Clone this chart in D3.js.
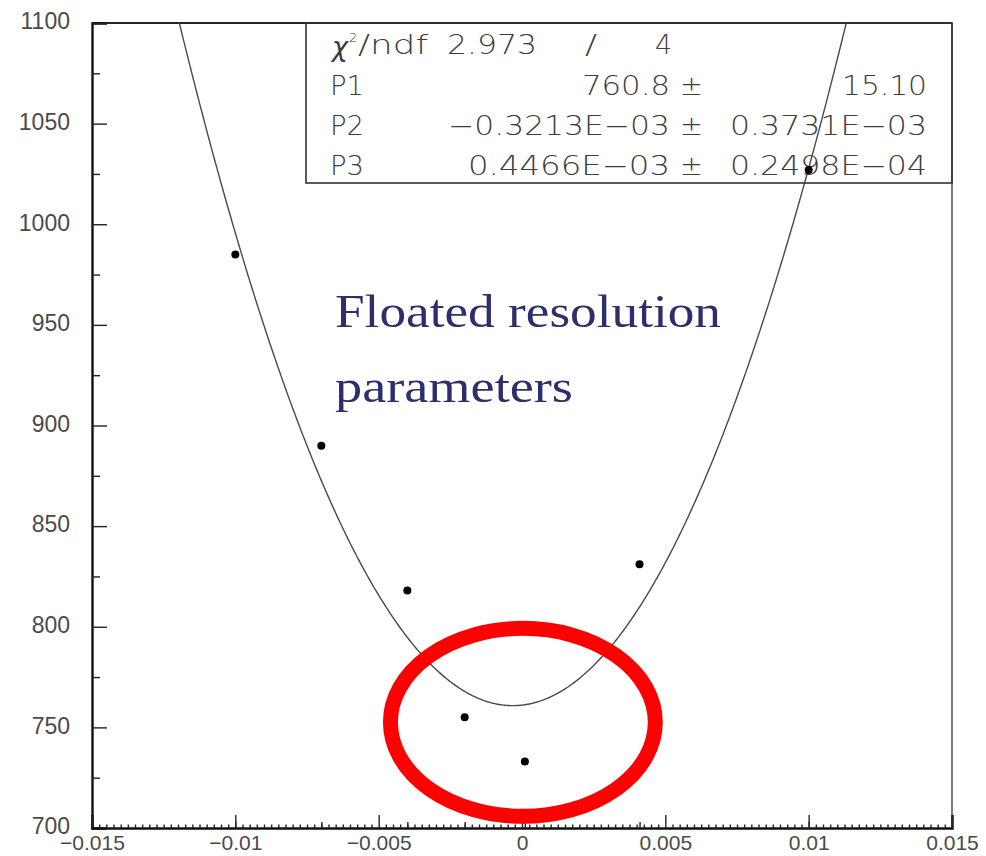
<!DOCTYPE html>
<html>
<head>
<meta charset="utf-8">
<script src="https://cdn.jsdelivr.net/npm/d3@7"></script>
<style>
  html, body { margin: 0; padding: 0; background: #fff; }
  svg { display: block; }
</style>
</head>
<body>
<svg id="chart" width="986" height="856"></svg>
<script>
// Measured points (x offset vs. fitted width)
const pointX = [-0.01, -0.007, -0.004, -0.002, 0.0001, 0.0041, 0.01];
const pointY = [985, 890, 818, 755, 733, 831, 1027];

// Axis ticks
const xMajor = [-0.015, -0.01, -0.005, 0, 0.005, 0.01, 0.015];
const xLabels = ["\u22120.015", "\u22120.01", "\u22120.005", "0", "0.005", "0.01", "0.015"];
const yMajor = [700, 750, 800, 850, 900, 950, 1000, 1050, 1100];
const yLabels = ["700", "750", "800", "850", "900", "950", "1000", "1050", "1100"];

// Fit result: y = P1 + (x - P2)^2 / (2 P3^2)
const fitNames = ["P1", "P2", "P3"];
const fitValues = [760.8, -0.3213e-3, 0.4466e-3];
const fitValueText = ["760.8", "\u22120.3213E\u221203", "0.4466E\u221203"];
const fitErrorText = ["15.10", "0.3731E\u221203", "0.2498E\u221204"];
const chi2Text = ["\u03c7\u00b2/ndf", "2.973", "/", "4"];

// Highlight ellipse (centre and half-axes in data units)
const ringCentre = [0.00003, 752.5];
const ringHalf = [0.00462, 46.7];

const noteLines = ["Floated resolution", "parameters"];

const svg = d3.select("#chart");
const L = 92, R = 952, T = 23, B = 828;

const x = d3.scaleLinear().domain([-0.015, 0.015]).range([L, R]);
const y = d3.scaleLinear().domain([700, 1100]).range([B, T]);

const tickFont = "'Liberation Sans', Arial, sans-serif";

// frame: top and right borders
svg.append("line").attr("x1", L).attr("x2", R).attr("y1", T).attr("y2", T)
  .attr("stroke", "#222").attr("stroke-width", 2);
svg.append("line").attr("x1", R).attr("x2", R).attr("y1", T).attr("y2", B)
  .attr("stroke", "#444").attr("stroke-width", 1.4);

// y axis: majors with labels, minors at 25
const yAxis = d3.axisLeft(y).tickValues(yMajor)
  .tickFormat((d, i) => yLabels[i]).tickSize(-15).tickPadding(22);
svg.append("g").attr("class", "yaxis").attr("transform", `translate(${L},0)`).call(yAxis);
const yMinor = d3.range(725, 1100, 50);
svg.append("g").attr("transform", `translate(${L},0)`)
  .call(d3.axisLeft(y).tickValues(yMinor).tickFormat("").tickSize(-8))
  .call(g => g.select(".domain").remove());

// x axis: majors with labels, dense minors, marks at the measured offsets
const xAxis = d3.axisBottom(x).tickValues(xMajor)
  .tickFormat((d, i) => xLabels[i]).tickSize(-13).tickPadding(7);
svg.append("g").attr("class", "xaxis").attr("transform", `translate(0,${B})`).call(xAxis);
const xMinor = d3.range(-60, 61).map(k => k * 0.00025)
  .filter(v => !xMajor.some(m => Math.abs(m - v) < 1e-9));
svg.append("g").attr("transform", `translate(0,${B})`)
  .call(d3.axisBottom(x).tickValues(xMinor).tickFormat("").tickSize(-3.5))
  .call(g => g.select(".domain").remove());
svg.append("g").attr("transform", `translate(0,${B})`)
  .call(d3.axisBottom(x).tickValues(pointX).tickFormat("").tickSize(-6))
  .call(g => g.select(".domain").remove());

svg.selectAll(".domain").attr("stroke", "#111").attr("stroke-width", 2.4);
svg.selectAll(".tick line").attr("stroke", "#222").attr("stroke-width", 1.4);
svg.selectAll(".tick text").attr("fill", "#4a4a4a").style("font-family", tickFont);
svg.selectAll(".yaxis .tick text").style("font-size", "23px").attr("dy", "0.25em");
svg.selectAll(".xaxis .tick text").style("font-size", "21px");

// fitted curve
svg.append("clipPath").attr("id", "plotclip")
  .append("rect").attr("x", L).attr("y", T).attr("width", R - L).attr("height", B - T);
const [P1, P2, P3] = fitValues;
const curveX = d3.range(-0.015, 0.01500001, 0.00005);
const curve = curveX.map(v => [v, P1 + (v - P2) * (v - P2) / (2 * P3 * P3)]);
svg.append("path").datum(curve)
  .attr("clip-path", "url(#plotclip)")
  .attr("fill", "none").attr("stroke", "#4a4a4a").attr("stroke-width", 1.4)
  .attr("d", d3.line().x(d => x(d[0])).y(d => y(d[1])));

// statistics box
const box = svg.append("g");
box.append("rect").attr("x", 306).attr("y", T).attr("width", R - 306).attr("height", 183 - T)
  .attr("fill", "none").attr("stroke", "#333").attr("stroke-width", 1.6);
const statFont = "'DejaVu Sans', 'Liberation Sans', sans-serif";
function stat(txt, xs, base, width, anchor) {
  const t = box.append("text").attr("x", xs).attr("y", base)
    .attr("fill", "#3c3c3c").style("font-family", statFont).style("font-size", "26px")
    .style("font-weight", "200")
    .attr("text-anchor", anchor || "start").text(txt);
  if (width) t.attr("textLength", width).attr("lengthAdjust", "spacingAndGlyphs");
  return t;
}
const rowBase = [54, 95, 135, 175];
// chi-square row
stat("\u03c7", 332, rowBase[0] + 2, 16).style("font-style", "italic");
stat("2", 349, rowBase[0] - 12, null).style("font-size", "13px");
stat("/ndf", 358, rowBase[0], 70);
stat(chi2Text[1], 447, rowBase[0], 90);
stat(chi2Text[2], 585, rowBase[0], 12);
stat(chi2Text[3], 655, rowBase[0], 17);
const valWidth = [88, 222, 202];
fitNames.forEach((n, i) => {
  const b = rowBase[i + 1];
  stat(n, 330, b, 34);
  stat(fitValueText[i], 670, b, valWidth[i], "end");
  stat("\u00b1", 680, b, 23);
  stat(fitErrorText[i], 927, b, i === 0 ? 85 : 197, "end");
});

// data points
svg.append("g").selectAll("circle").data(pointX).join("circle")
  .attr("cx", (d, i) => x(d)).attr("cy", (d, i) => y(pointY[i]))
  .attr("r", 4).attr("fill", "#000");

// note text
const note = svg.append("g").attr("fill", "#2e2f6a")
  .style("font-family", "'Liberation Serif', 'DejaVu Serif', serif").style("font-size", "46px");
note.append("text").attr("x", 335).attr("y", 327).text(noteLines[0])
  .attr("textLength", 386).attr("lengthAdjust", "spacingAndGlyphs");
note.append("text").attr("x", 335).attr("y", 402).text(noteLines[1])
  .attr("textLength", 238).attr("lengthAdjust", "spacingAndGlyphs");

// red ring
svg.append("ellipse")
  .attr("cx", x(ringCentre[0])).attr("cy", y(ringCentre[1]))
  .attr("rx", x(ringCentre[0] + ringHalf[0]) - x(ringCentre[0]))
  .attr("ry", y(ringCentre[1]) - y(ringCentre[1] + ringHalf[1]))
  .attr("fill", "none").attr("stroke", "#ff0000").attr("stroke-width", 15);
</script>
</body>
</html>
